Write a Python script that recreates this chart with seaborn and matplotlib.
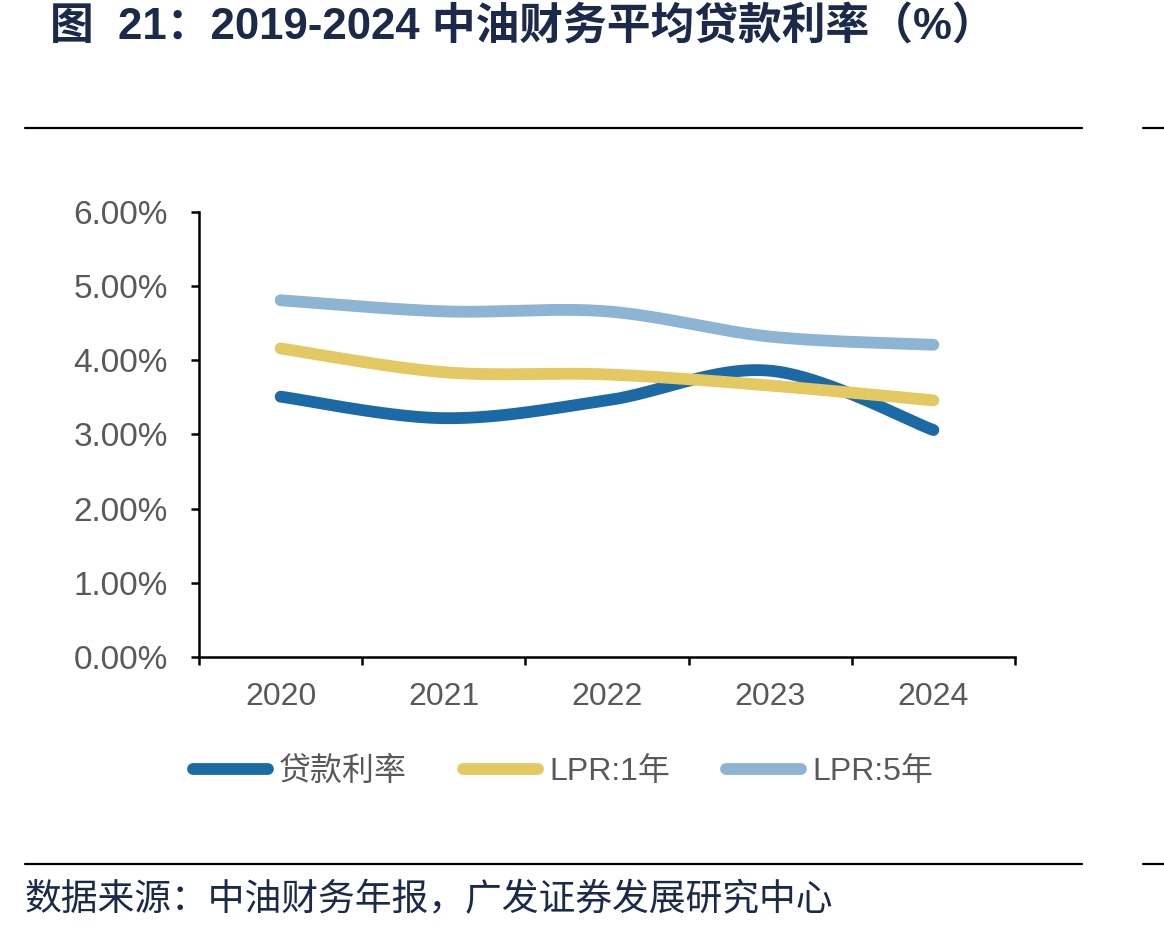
# 中油财务平均贷款利率 2020-2024
import numpy as np
import pandas as pd
import matplotlib
matplotlib.use("Agg")
import matplotlib.pyplot as plt
import seaborn as sns
from matplotlib.ticker import FixedLocator, FuncFormatter

# datos
years = ["2020", "2021", "2022", "2023", "2024"]
loan_rate = [3.51, 3.22, 3.46, 3.86, 3.06]   # 贷款利率
lpr_1y = [4.16, 3.84, 3.81, 3.66, 3.46]      # LPR:1年
lpr_5y = [4.81, 4.66, 4.66, 4.32, 4.21]      # LPR:5年
series_names = ["贷款利率", "LPR:1年", "LPR:5年"]
colors = ["#1B6AA5", "#E4C862", "#8DB4D2"]

sns.set_theme(style="white")
plt.rcParams["font.family"] = ["Liberation Sans", "Noto Sans CJK SC", "DejaVu Sans"]
plt.rcParams["lines.solid_capstyle"] = "round"


def suavizar(y, n=60):
    # curva suave tipo excel (bezier con puntos de control catmull-rom)
    y = np.asarray(y, dtype=float)
    x = np.arange(len(y), dtype=float)
    xs, ys = [], []
    for i in range(len(y) - 1):
        i0, i3 = max(i - 1, 0), min(i + 2, len(y) - 1)
        p0 = np.array([x[i], y[i]])
        p3 = np.array([x[i + 1], y[i + 1]])
        c1 = p0 + (np.array([x[i + 1], y[i + 1]]) - np.array([x[i0], y[i0]])) / 6
        c2 = p3 - (np.array([x[i3], y[i3]]) - np.array([x[i], y[i]])) / 6
        t = np.linspace(0, 1, n)[:, None]
        pts = (1 - t) ** 3 * p0 + 3 * (1 - t) ** 2 * t * c1 + 3 * (1 - t) * t ** 2 * c2 + t ** 3 * p3
        xs.extend(pts[:, 0]); ys.extend(pts[:, 1])
    return xs, ys


frames = []
for name, vals in zip(series_names, [loan_rate, lpr_1y, lpr_5y]):
    xs, ys = suavizar(vals)
    frames.append(pd.DataFrame({"x": xs, "y": ys, "serie": name}))
df = pd.concat(frames, ignore_index=True)

fig = plt.figure(figsize=(11.64, 9.34), dpi=100)
ax = fig.add_axes([199 / 1164, 1 - 657 / 934, (1015 - 199) / 1164, (657 - 212) / 934])

sns.lineplot(data=df, x="x", y="y", hue="serie", hue_order=series_names,
             palette=colors, linewidth=8.5, sort=False, estimator=None, ax=ax)

ax.set_xlim(-0.5, 4.5)
ax.set_ylim(0, 6)
ax.set_xlabel("")
ax.set_ylabel("")

# ejes
for s in ["top", "right"]:
    ax.spines[s].set_visible(False)
for s in ["left", "bottom"]:
    ax.spines[s].set_linewidth(1.8)
    ax.spines[s].set_color("black")

ax.yaxis.set_major_locator(FixedLocator(np.arange(0, 7, 1)))
ax.yaxis.set_major_formatter(FuncFormatter(lambda v, p: f"{v:.2f}%"))
ax.tick_params(axis="y", direction="out", length=5.5, width=1.8, color="black",
               labelsize=24, labelcolor="#595959", pad=17, left=True)

ax.xaxis.set_major_locator(FixedLocator(np.arange(-0.5, 5, 1)))
ax.xaxis.set_major_formatter(FuncFormatter(lambda v, p: ""))
ax.xaxis.set_minor_locator(FixedLocator(np.arange(0, 5)))
ax.xaxis.set_minor_formatter(FuncFormatter(lambda v, p: years[int(round(v))]))
ax.tick_params(axis="x", which="major", direction="out", length=6, width=1.8,
               color="black", bottom=True)
ax.tick_params(axis="x", which="minor", length=0, labelsize=23,
               labelcolor="#595959", pad=18)

# leyenda abajo
leg = ax.legend(loc="center left", bbox_to_anchor=(193 / 1164, 1 - 772 / 934),
                bbox_transform=fig.transFigure, ncol=3, frameon=False,
                fontsize=23, handlelength=2.35, handletextpad=0.35,
                columnspacing=1.75, borderpad=0, borderaxespad=0)
for t in leg.get_texts():
    t.set_color("#595959")
for h in leg.get_lines():
    h.set_linewidth(8.5)

# titulo, lineas y fuente
fig.text(50 / 1164, 1 - 28 / 934, "图  21：2019-2024 中油财务平均贷款利率（%）",
         fontsize=31.5, fontweight="bold", color="#1B2A4A", va="center", ha="left")
for yy in [128, 864]:
    fig.add_artist(plt.Line2D([25 / 1164, 1082 / 1164], [1 - yy / 934] * 2,
                              color="black", lw=1.6))
    fig.add_artist(plt.Line2D([1143 / 1164, 1.0], [1 - yy / 934] * 2,
                              color="black", lw=1.6))
fig.text(25 / 1164, 1 - 900 / 934, "数据来源：中油财务年报，广发证券发展研究中心",
         fontsize=26.5, color="#1B2A4A", va="center", ha="left",
         family=["Noto Sans CJK SC"])

fig.savefig("out.png", dpi=100)
